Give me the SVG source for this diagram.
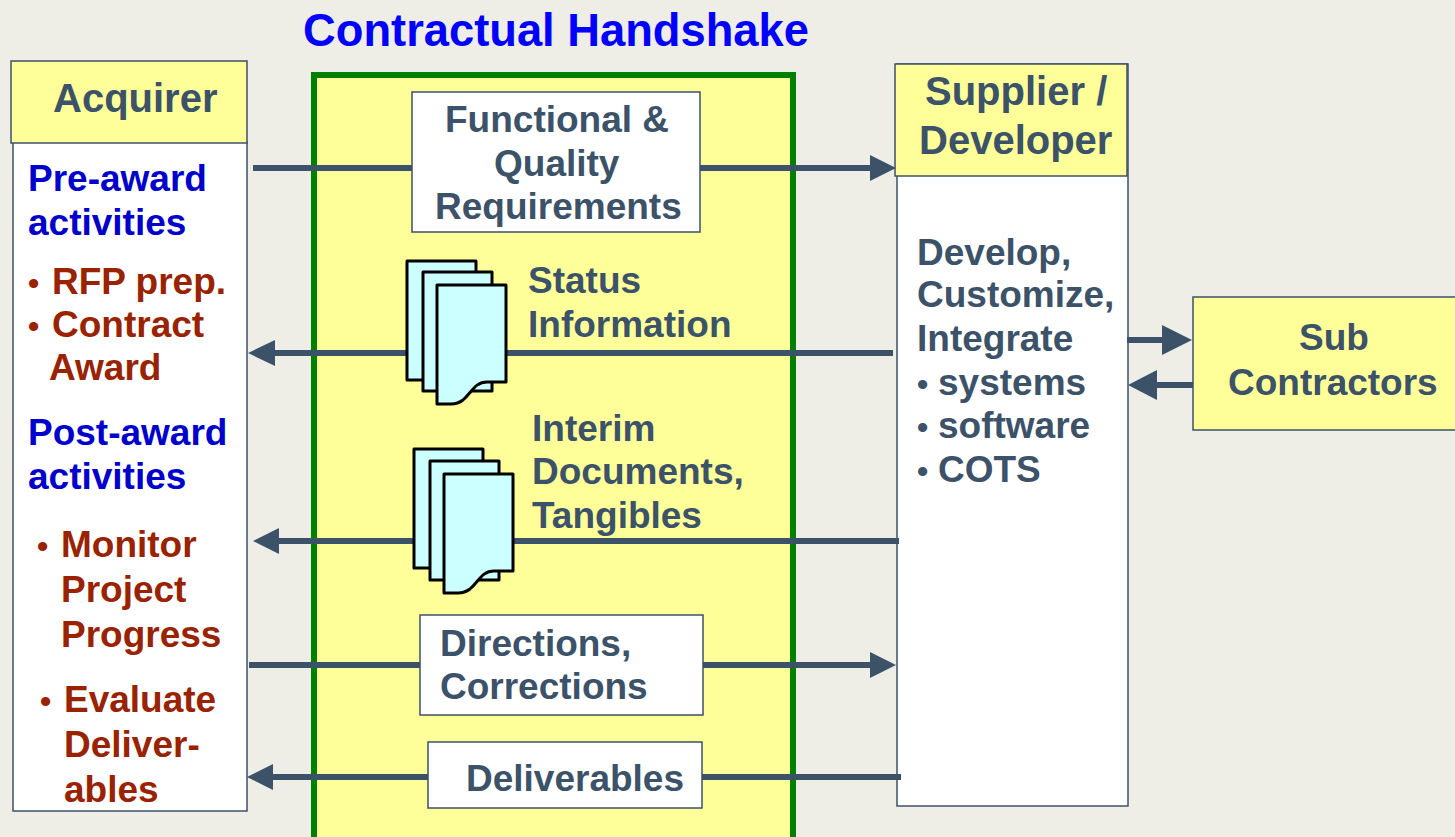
<svg xmlns="http://www.w3.org/2000/svg" width="1455" height="837" viewBox="0 0 1455 837">
<style>
text{font-family:"Liberation Sans",Arial,sans-serif;font-weight:700;font-size:37px}
.h{font-size:40px}
.t{font-size:45.3px}
.bu{font-size:32px}
.s{fill:#3c5269}.b{fill:#0000cc}.r{fill:#992200}
.box{stroke:#3c5269;stroke-width:1.5}
.wb{fill:#fff}.yb{fill:#ffff99}
.c{stroke:#3c5269;stroke-width:6;fill:none}
.ar{fill:#3c5269}
.d{fill:#ccffff;stroke:#000;stroke-width:3;stroke-linejoin:round}
</style>
<defs>
<path id="back" d="M0 0H69V119H0Z"/>
<path id="front" d="M0 0H69V97H50C38 97 35 107 26 115C22 118 18 119 14 119H0Z"/>
</defs>
<rect width="1455" height="837" fill="#eeede6"/>
<g id="handshake"><rect x="314" y="75" width="479" height="775" fill="#ffff99" stroke="#008000" stroke-width="6"/>
<text class="t" x="303" y="46" fill="#0000ff">Contractual Handshake</text></g>
<g id="acquirer">
<rect class="box wb" x="13" y="142" width="234" height="669"/>
<rect class="box yb" x="11" y="61" width="236" height="82"/>
<text class="s h" x="53" y="112">Acquirer</text>
<text class="b"><tspan x="28" y="191">Pre-award</tspan><tspan x="28" y="235">activities</tspan></text>
<text class="r"><tspan class="bu" x="28" y="294">•</tspan><tspan x="52" y="294">RFP prep.</tspan><tspan class="bu" x="28" y="337">•</tspan><tspan x="52" y="337">Contract</tspan><tspan x="49" y="380">Award</tspan></text>
<text class="b"><tspan x="28" y="445">Post-award</tspan><tspan x="28" y="489">activities</tspan></text>
<text class="r"><tspan class="bu" x="37" y="557">•</tspan><tspan x="61" y="557">Monitor</tspan><tspan x="61" y="602">Project</tspan><tspan x="61" y="647">Progress</tspan><tspan class="bu" x="40" y="712">•</tspan><tspan x="64" y="712">Evaluate</tspan><tspan x="64" y="757">Deliver-</tspan><tspan x="64" y="802">ables</tspan></text>
</g>
<g id="supplier">
<rect class="box wb" x="897" y="64" width="231" height="742"/>
<rect class="box yb" x="895" y="64" width="232" height="112"/>
<text class="s h" x="925" y="105">Supplier /</text><text class="s h" x="919" y="154">Developer</text>
<text class="s"><tspan x="917" y="265">Develop,</tspan><tspan x="917" y="307">Customize,</tspan><tspan x="917" y="351">Integrate</tspan><tspan class="bu" x="917" y="395">•</tspan><tspan x="938" y="395">systems</tspan><tspan class="bu" x="917" y="438">•</tspan><tspan x="938" y="438">software</tspan><tspan class="bu" x="917" y="482">•</tspan><tspan x="938" y="482">COTS</tspan></text>
</g>
<g id="subcontractors"><rect class="box yb" x="1193" y="297" width="270" height="133"/>
<text class="s" x="1299" y="350">Sub</text><text class="s" x="1228" y="395">Contractors</text></g>
<g id="connectors">
<path class="c" d="M253 168H872M272 353H893M276 541H899M249 665H872M270 777H901M1127 340H1165M1193 385H1155"/>
<path class="ar" d="M870 155L896 168L870 181ZM248 353L275 340V366ZM253 541L279 528V554ZM870 652L896 665L870 678ZM247 777L273 764V790ZM1162 325L1192 340L1162 355ZM1128 385L1157 370V400Z"/>
</g>
<g id="functional"><rect class="box wb" x="412" y="92" width="288" height="140"/>
<text class="s"><tspan x="445" y="132">Functional &amp;</tspan><tspan x="494" y="176">Quality</tspan><tspan x="435" y="219">Requirements</tspan></text></g>
<g id="status"><use href="#back" class="d" x="407" y="261"/><use href="#back" class="d" x="423" y="272"/><use href="#front" class="d" x="437" y="285"/>
<text class="s"><tspan x="528" y="293">Status</tspan><tspan x="528" y="337">Information</tspan></text></g>
<g id="interim"><use href="#back" class="d" x="414" y="449"/><use href="#back" class="d" x="430" y="461"/><use href="#front" class="d" x="444" y="474"/>
<text class="s"><tspan x="532" y="441">Interim</tspan><tspan x="532" y="484">Documents,</tspan><tspan x="532" y="528">Tangibles</tspan></text></g>
<g id="directions"><rect class="box wb" x="420" y="615" width="283" height="100"/>
<text class="s"><tspan x="440" y="656">Directions,</tspan><tspan x="440" y="699">Corrections</tspan></text></g>
<g id="deliverables"><rect class="box wb" x="428" y="742" width="274" height="66"/>
<text class="s" x="466" y="791">Deliverables</text></g>
</svg>
